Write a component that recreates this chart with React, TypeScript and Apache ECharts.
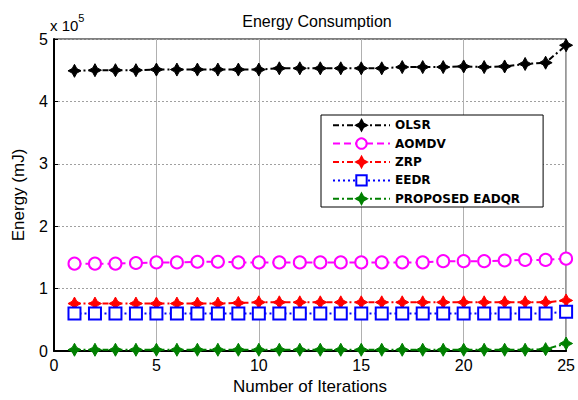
import React, { useEffect, useRef } from "react";
import * as echarts from "echarts";

const iterations = [1,2,3,4,5,6,7,8,9,10,11,12,13,14,15,16,17,18,19,20,21,22,23,24,25];
const seriesNames = ["OLSR", "AOMDV", "ZRP", "EEDR", "PROPOSED EADQR"];
const olsr = [4.49,4.5,4.5,4.5,4.51,4.51,4.51,4.51,4.51,4.51,4.53,4.53,4.53,4.53,4.53,4.53,4.55,4.55,4.55,4.56,4.55,4.56,4.6,4.62,4.9];
const aomdv = [1.4,1.4,1.4,1.41,1.42,1.42,1.43,1.43,1.42,1.42,1.42,1.42,1.42,1.42,1.42,1.42,1.42,1.42,1.44,1.44,1.44,1.45,1.46,1.46,1.48];
const zrp = [0.76,0.76,0.76,0.76,0.76,0.76,0.76,0.76,0.77,0.78,0.78,0.78,0.78,0.78,0.78,0.78,0.78,0.78,0.78,0.78,0.78,0.78,0.78,0.78,0.81];
const eedr = [0.6,0.6,0.6,0.6,0.6,0.6,0.6,0.6,0.6,0.6,0.6,0.6,0.6,0.6,0.6,0.6,0.6,0.6,0.6,0.6,0.6,0.6,0.6,0.6,0.63];
const eadqr = [0.02,0.02,0.02,0.02,0.02,0.02,0.02,0.02,0.02,0.02,0.02,0.02,0.02,0.02,0.02,0.02,0.02,0.02,0.02,0.02,0.02,0.02,0.02,0.03,0.12];
const scale = 100000;
const yTicks = [0, 1, 2, 3, 4, 5];
const xTicks = [0, 5, 10, 15, 20, 25];

const STAR = "path://M0,-10 L3.5,-3.5 L10,0 L3.5,3.5 L0,10 L-3.5,3.5 L-10,0 L-3.5,-3.5 Z";
const FONT = "Liberation Sans";

export default function App() {
  const ref = useRef<HTMLDivElement>(null);
  useEffect(() => {
    const chart = echarts.init(ref.current!, null, { renderer: "svg" });
    const mk = (name: string, vals: number[], color: string, symbol: string, size: number, dash: number[], filled: boolean) => ({
      name,
      type: "line",
      data: iterations.map((x, i) => [x, vals[i] * scale]),
      symbol,
      symbolSize: size,
      showAllSymbol: true,
      lineStyle: { color, width: 2, type: dash },
      itemStyle: { color: filled ? color : "#fff", borderColor: color, borderWidth: filled ? 1 : 2 },
      emphasis: { disabled: true },
    });
    chart.setOption({
      animation: false,
      backgroundColor: "#fff",
      title: {
        text: "Energy Consumption",
        left: 312,
        top: 8,
        textAlign: "center",
        textStyle: { fontFamily: FONT, fontSize: 16, fontWeight: "normal", color: "#000" },
      },
      grid: { left: 54, right: 8, top: 39, bottom: 48, show: true, borderColor: "#000", borderWidth: 1, backgroundColor: "#fff" },
      xAxis: {
        type: "value",
        min: xTicks[0],
        max: xTicks[xTicks.length - 1],
        interval: 5,
        name: "Number of Iterations",
        nameLocation: "middle",
        nameGap: 27,
        nameTextStyle: { fontFamily: FONT, fontSize: 17, color: "#000" },
        axisLine: { show: true, lineStyle: { color: "#000", width: 2 } },
        axisTick: { show: true, inside: true, length: 4, lineStyle: { color: "#000" } },
        axisLabel: { fontFamily: FONT, fontSize: 16, color: "#000", margin: 6 },
        splitLine: { show: true, lineStyle: { color: "#b0b0b0", width: 1 } },
      },
      yAxis: {
        type: "value",
        min: 0,
        max: yTicks[yTicks.length - 1] * scale,
        interval: scale,
        name: "Energy (mJ)",
        nameLocation: "middle",
        nameGap: 27,
        nameTextStyle: { fontFamily: FONT, fontSize: 17, color: "#000" },
        axisLine: { show: true, lineStyle: { color: "#000", width: 2 } },
        axisTick: { show: true, inside: true, length: 4, lineStyle: { color: "#000" } },
        axisLabel: { fontFamily: FONT, fontSize: 16, color: "#000", margin: 6, formatter: (v: number) => String(v / scale) },
        splitLine: { show: true, lineStyle: { color: "#a0a0a0", width: 1, type: [2, 2] } },
      },
      legend: {
        orient: "vertical",
        left: 321,
        top: 115,
        itemWidth: 57,
        itemHeight: 13,
        itemGap: 6,
        padding: [4, 23, 2, 11],
        backgroundColor: "#fff",
        borderColor: "#000",
        borderWidth: 1,
        borderRadius: 0,
        data: seriesNames,
        textStyle: { fontFamily: "DejaVu Sans", fontSize: 12, fontWeight: "bold", color: "#000" },
      },
      graphic: [
        {
          type: "text",
          left: 50,
          top: 12,
          style: {
            text: "{b|x 10}{s|5}",
            rich: {
              b: { fontFamily: FONT, fontSize: 15, color: "#000", verticalAlign: "bottom", padding: [6, 0, 0, 0] },
              s: { fontFamily: FONT, fontSize: 11, color: "#000", verticalAlign: "top" },
            },
          },
        },
      ],
      series: [
        mk(seriesNames[0], olsr, "#000000", STAR, 13, [6, 3, 2, 3], true),
        mk(seriesNames[1], aomdv, "#ff00ff", "circle", 12, [7, 4], false),
        mk(seriesNames[2], zrp, "#ff0000", STAR, 13, [6, 3, 2, 3], true),
        mk(seriesNames[3], eedr, "#0000ff", "rect", 12, [2, 3], false),
        mk(seriesNames[4], eadqr, "#008000", STAR, 13, [6, 3, 2, 3], true),
      ],
    });
    return () => chart.dispose();
  }, []);
  return <div ref={ref} style={{ width: 578, height: 400, position: "absolute", left: 0, top: 0 }} />;
}
